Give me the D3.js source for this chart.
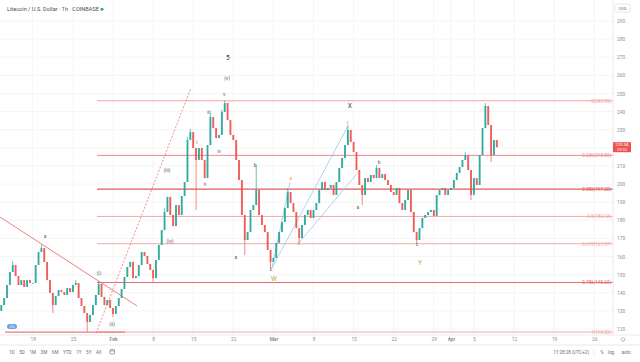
<!DOCTYPE html>
<html>
<head>
<meta charset="utf-8">
<script src="https://cdn.jsdelivr.net/npm/d3@7"></script>
<style>
html, body { margin: 0; padding: 0; background: #fff; overflow: hidden; }
svg { display: block; font-family: Roboto, "Liberation Sans", sans-serif; }
</style>
</head>
<body>
<div id="chart"></div>
<script>
var candleStart = "2021-01-12 12:00";
var candleHours = 12;
var firstOpen = 130.0;
var closes = [
  133.2, 137.1, 144.3, 151.5, 155.3, 149.2, 144.3, 147.0, 143.2, 147.0,
  145.4, 145.4, 155.3, 162.5, 164.7, 157.0, 147.0, 139.9, 133.2, 138.2,
  141.5, 140.4, 138.8, 142.6, 140.4, 144.3, 145.4, 137.1, 132.7, 128.8,
  123.9, 127.7, 133.2, 138.8, 144.8, 137.7, 133.2, 136.0, 131.6, 128.3,
  132.7, 137.1, 142.1, 148.7, 154.2, 157.0, 148.1, 149.2, 155.3, 162.5,
  160.3, 155.9, 152.6, 148.1, 158.1, 166.4, 174.6, 184.6, 192.9, 182.9,
  176.8, 188.4, 182.9, 193.4, 201.1, 224.3, 228.7, 219.9, 213.3, 219.9,
  213.3, 203.3, 221.5, 237.0, 230.9, 225.4, 227.1, 239.8, 244.7, 235.3,
  227.1, 224.3, 213.3, 202.2, 182.9, 169.1, 173.5, 185.7, 188.4, 196.7,
  182.9, 177.4, 173.5, 163.6, 157.0, 159.2, 167.5, 173.5, 179.1, 186.8,
  195.6, 189.5, 184.6, 175.7, 170.2, 177.4, 182.9, 185.7, 181.3, 185.7,
  189.5, 196.7, 201.1, 196.7, 197.8, 199.5, 194.0, 201.1, 208.9, 214.4,
  221.5, 229.8, 223.2, 217.7, 207.7, 199.5, 194.0, 203.3, 201.1, 205.0,
  203.3, 208.9, 203.3, 205.5, 202.2, 199.5, 195.6, 194.0, 197.8, 189.5,
  185.7, 191.2, 196.7, 184.6, 173.5, 169.1, 175.7, 181.3, 182.9, 184.6,
  185.7, 182.4, 193.9, 196.7, 197.8, 194.0, 196.7, 197.8, 202.2, 206.1,
  209.4, 213.3, 216.0, 207.7, 194.0, 203.3, 199.5, 216.0, 230.9, 243.1,
  232.6, 216.0, 224.3, 220.3
];
// [candle index, price] of long wicks
var highSpikes = [[4, 157.5], [14, 166.5], [26, 147.0], [34, 146.5], [57, 186.5], [65, 226.0],
  [66, 230.5], [73, 239.0], [77, 241.0], [78, 245.95], [89, 210.5], [100, 197.8],
  [121, 232.6], [131, 210.5], [162, 217.7], [169, 244.7]];
var lowSpikes = [[18, 128.8], [30, 118.5], [39, 126.6], [53, 146.0], [68, 185.7], [85, 160.8],
  [94, 152.6], [104, 167.5], [126, 188.4], [145, 166.9], [164, 191.2], [171, 212.2]];

var priceTicks = [120, 130, 140, 150, 160, 170, 180, 190, 200, 210, 220, 230, 240, 250, 260, 270, 280, 290];
var timeTickDates = ["2021-01-18", "2021-01-25", "2021-02-01", "2021-02-08", "2021-02-15", "2021-02-22",
  "2021-03-01", "2021-03-08", "2021-03-15", "2021-03-22", "2021-03-29", "2021-04-01", "2021-04-05",
  "2021-04-12", "2021-04-19", "2021-04-26"];
var timeTickLabels = ["18", "25", "Feb", "8", "15", "22", "Mar", "8", "15", "22", "29", "Apr", "5", "12", "19", "26"];

var fibHigh = 245.95, fibLow = 118.32;
var fibRatios = [0, 0.236, 0.382, 0.5, 0.618, 0.786, 1];
var fibColors = ["#f3a3a3", "#ec8a8a", "#e05a5a", "#f3a8a8", "#f3a8a8", "#e46a6a", "#f3a8a8"];
var fibStartIdx = 33.4;

// wave labels: [candle index, price, text, kind]
var waveLabels = [
  [15.3, 170.8, "a", "minor"], [34.1, 150.4, "(i)", "minor"], [38.7, 122.2, "(ii)", "minor"],
  [57.9, 207.2, "(iii)", "minor"], [58.9, 168.0, "(iv)", "minor"], [68.3, 222.6, "i", "minor"],
  [71.1, 199.5, "ii", "minor"], [72.5, 239.2, "iii", "minor"], [76.0, 217.7, "iv", "minor"],
  [77.8, 249.3, "v", "minor"], [78.8, 258.0, "(v)", "minor"], [79.1, 269.6, "5", "major"],
  [81.9, 159.2, "a", "minor"], [88.6, 210.0, "b", "minor"], [94.2, 152.6, "c", "minor"],
  [95.2, 147.4, "W", "wxy"], [101.1, 202.8, "a", "orange"], [103.9, 167.0, "b", "orange"],
  [121.0, 234.0, "c", "orange"], [121.7, 243.1, "X", "major"], [124.5, 186.8, "a", "minor"],
  [131.9, 211.6, "b", "minor"], [145.1, 166.4, "c", "minor"], [146.2, 156.4, "Y", "wxy"]
];
// drawn lines: [idx0, price0, idx1, price1]
var trendLine = [-0.45, 181.8, 47.4, 132.7];
var dottedLine = [33.1, 117.8, 66.2, 253.0];
var channelLines = [[94.5, 153.7, 100.8, 201.1], [94.5, 153.7, 121.0, 232.0], [103.9, 167.5, 125.2, 207.7]];
var baseSegment = [1.3, 118.32, 43.2, 118.32];

var lastPrice = "220.34", countdown = "29:32";

var W = 640, H = 362;
var plotRight = 613, plotBottom = 335;
var parseDay = d3.timeParse("%Y-%m-%d");
var parseHour = d3.timeParse("%Y-%m-%d %H:%M");
var t0 = parseHour(candleStart).getTime();
function idxDate(i) { return new Date(t0 + i * candleHours * 3600e3); }

var x = d3.scaleTime()
    .domain([parseDay("2021-02-01"), parseDay("2021-04-01")])
    .range([113, 451]);
var y = d3.scaleLinear().domain([120, 290]).range([329, 21]);

var svg = d3.select("#chart").append("svg").attr("width", W).attr("height", H);

// grid
svg.append("g").selectAll("line").data(priceTicks).enter().append("line")
    .attr("x1", 0).attr("x2", plotRight)
    .attr("y1", d => y(d)).attr("y2", d => y(d))
    .attr("stroke", "#f1f2f5").attr("stroke-width", 0.8);
svg.append("g").selectAll("line").data(timeTickDates).enter().append("line")
    .attr("x1", d => x(parseDay(d))).attr("x2", d => x(parseDay(d)))
    .attr("y1", 0).attr("y2", plotBottom)
    .attr("stroke", "#f1f2f5").attr("stroke-width", 0.8);

// fib levels
var fib = svg.append("g");
fibRatios.forEach(function(r, k) {
    var v = fibHigh - r * (fibHigh - fibLow);
    fib.append("line")
        .attr("x1", x(idxDate(fibStartIdx))).attr("x2", plotRight)
        .attr("y1", y(v)).attr("y2", y(v))
        .attr("stroke", fibColors[k]).attr("stroke-width", k === 2 ? 1.2 : 1);
    fib.append("text")
        .attr("x", plotRight - 2).attr("y", y(v) + 1.8)
        .attr("text-anchor", "end").attr("font-size", 4.6)
        .attr("fill", fibColors[k])
        .text(r + "(" + v.toFixed(2) + ")");
});

function drawSeg(s, color, width, dash) {
    svg.append("line")
        .attr("x1", x(idxDate(s[0]))).attr("y1", y(s[1]))
        .attr("x2", x(idxDate(s[2]))).attr("y2", y(s[3]))
        .attr("stroke", color).attr("stroke-width", width)
        .attr("stroke-dasharray", dash || null);
}
drawSeg(baseSegment, "#ea7b7b", 1.2);
drawSeg(trendLine, "#ee7070", 0.9);
drawSeg(dottedLine, "#ee7070", 0.8, "2,1.6");
channelLines.forEach(s => drawSeg(s, "#9cc7ee", 0.8));

// candles
var candles = closes.map(function(c, i) {
    var o = i === 0 ? firstOpen : closes[i - 1];
    return { date: idxDate(i), o: o, c: c, h: Math.max(o, c), l: Math.min(o, c) };
});
highSpikes.forEach(d => { candles[d[0]].h = Math.max(candles[d[0]].h, d[1]); });
lowSpikes.forEach(d => { candles[d[0]].l = Math.min(candles[d[0]].l, d[1]); });

var bodyW = 1.9;
var cg = svg.append("g").selectAll("g").data(candles).enter().append("g");
cg.append("line")
    .attr("x1", d => x(d.date)).attr("x2", d => x(d.date))
    .attr("y1", d => y(d.h)).attr("y2", d => y(d.l))
    .attr("stroke", d => d.c >= d.o ? "#26a69a" : "#ef5350").attr("stroke-width", 0.7);
cg.append("rect")
    .attr("x", d => x(d.date) - bodyW / 2)
    .attr("y", d => y(Math.max(d.o, d.c)))
    .attr("width", bodyW)
    .attr("height", d => Math.max(0.8, Math.abs(y(d.o) - y(d.c))))
    .attr("fill", d => d.c >= d.o ? "#26a69a" : "#ef5350")
    .attr("opacity", 0.88);

// wave labels
var labelColor = { minor: "#55585f", major: "#3a3d44", orange: "#f0a030", wxy: "#c9a43a" };
svg.append("g").selectAll("text").data(waveLabels).enter().append("text")
    .attr("x", d => x(idxDate(d[0]))).attr("y", d => y(d[1]))
    .attr("text-anchor", "middle").attr("dominant-baseline", "middle")
    .attr("font-size", d => d[3] === "major" || d[3] === "wxy" ? 6.5 : 4.8)
    .attr("fill", d => labelColor[d[3]])
    .text(d => d[2]);

// axis frame
svg.append("line").attr("x1", plotRight).attr("x2", plotRight).attr("y1", 0).attr("y2", plotBottom)
    .attr("stroke", "#e3e5ea").attr("stroke-width", 0.8);
svg.append("line").attr("x1", 0).attr("x2", W).attr("y1", plotBottom).attr("y2", plotBottom)
    .attr("stroke", "#e3e5ea").attr("stroke-width", 0.8);
svg.append("line").attr("x1", 0).attr("x2", W).attr("y1", 345).attr("y2", 345)
    .attr("stroke", "#e3e5ea").attr("stroke-width", 0.8);

// price axis; the tick hidden under the last-price tag is not shown, as in TradingView
var tagY = y(+lastPrice);
var yAxis = svg.append("g").attr("transform", "translate(" + plotRight + ",0)")
    .call(d3.axisRight(y).tickValues(priceTicks.filter(v => Math.abs(y(v) - tagY) > 7))
        .tickSize(0).tickPadding(4));
yAxis.select(".domain").remove();
yAxis.selectAll("text").attr("font-size", 4.8).attr("fill", "#8b8e97")
    .attr("font-family", "Roboto, sans-serif");

var xAxis = svg.append("g").attr("transform", "translate(0," + plotBottom + ")")
    .call(d3.axisBottom(x).tickValues(timeTickDates.map(parseDay)).tickSize(0).tickPadding(3)
        .tickFormat((d, i) => timeTickLabels[i]));
xAxis.select(".domain").remove();
xAxis.selectAll("text").attr("font-size", 4.8).attr("fill", "#8b8e97")
    .attr("font-family", "Roboto, sans-serif")
    .attr("font-weight", (d, i) => isNaN(+timeTickLabels[i]) ? 700 : 400);

// last price tag
svg.append("rect").attr("x", plotRight).attr("y", tagY - 5).attr("width", 18).attr("height", 10)
    .attr("fill", "#ef5350");
svg.append("text").attr("x", plotRight + 9).attr("y", tagY - 0.8).attr("text-anchor", "middle")
    .attr("font-size", 4.2).attr("fill", "#fff").text(lastPrice);
svg.append("text").attr("x", plotRight + 9).attr("y", tagY + 3.6).attr("text-anchor", "middle")
    .attr("font-size", 4.0).attr("fill", "#fff").text(countdown);

// USD box
svg.append("rect").attr("x", 615).attr("y", 4).attr("width", 15).attr("height", 8).attr("rx", 1)
    .attr("fill", "#fff").attr("stroke", "#d5d7dd").attr("stroke-width", 0.6);
svg.append("text").attr("x", 622.5).attr("y", 9.6).attr("text-anchor", "middle")
    .attr("font-size", 4.2).attr("fill", "#6a6d76").text("USD");

// title
svg.append("text").attr("x", 7).attr("y", 11).attr("font-size", 5.6).attr("fill", "#4a4d55")
    .text("Litecoin / U.S. Dollar \u00b7 1h \u00b7 COINBASE");
svg.append("circle").attr("cx", 102).attr("cy", 9.3).attr("r", 1.5).attr("fill", "#26a69a");

// logo badge
svg.append("rect").attr("x", 7).attr("y", 324).attr("width", 10).attr("height", 5).attr("rx", 2.5)
    .attr("fill", "#6aa5e0");
svg.append("text").attr("x", 12).attr("y", 328).attr("text-anchor", "middle")
    .attr("font-size", 3.8).attr("fill", "#fff").text("Ch");

// bottom toolbar
var rangeButtons = ["1D", "5D", "1M", "3M", "6M", "YTD", "1Y", "5Y", "All"];
var bx = 9;
rangeButtons.forEach(function(b) {
    var t = svg.append("text").attr("x", bx).attr("y", 354).attr("font-size", 4.6)
        .attr("fill", "#6a6d76").text(b);
    bx += t.node().getComputedTextLength() + 4.6;
});
svg.append("rect").attr("x", 110).attr("y", 349.5).attr("width", 4.5).attr("height", 4.5).attr("rx", 0.6)
    .attr("fill", "none").attr("stroke", "#6a6d76").attr("stroke-width", 0.6);
svg.append("line").attr("x1", 110).attr("x2", 114.5).attr("y1", 351).attr("y2", 351)
    .attr("stroke", "#6a6d76").attr("stroke-width", 0.6);

svg.append("text").attr("x", 589).attr("y", 354).attr("text-anchor", "end").attr("font-size", 4.6)
    .attr("fill", "#6a6d76").text("11:28:28 (UTC+2)");
svg.append("line").attr("x1", 594).attr("x2", 594).attr("y1", 349).attr("y2", 356)
    .attr("stroke", "#e0e2e7").attr("stroke-width", 0.6);
[["%", 602], ["log", 611], ["auto", 626]].forEach(function(b) {
    svg.append("text").attr("x", b[1]).attr("y", 354).attr("text-anchor", "middle").attr("font-size", 4.6)
        .attr("fill", "#6a6d76").text(b[0]);
});
// gear
svg.append("circle").attr("cx", 623).attr("cy", 339.5).attr("r", 1.8)
    .attr("fill", "none").attr("stroke", "#777a82").attr("stroke-width", 0.8)
    .attr("stroke-dasharray", "0.9,0.5");
</script>
</body>
</html>
